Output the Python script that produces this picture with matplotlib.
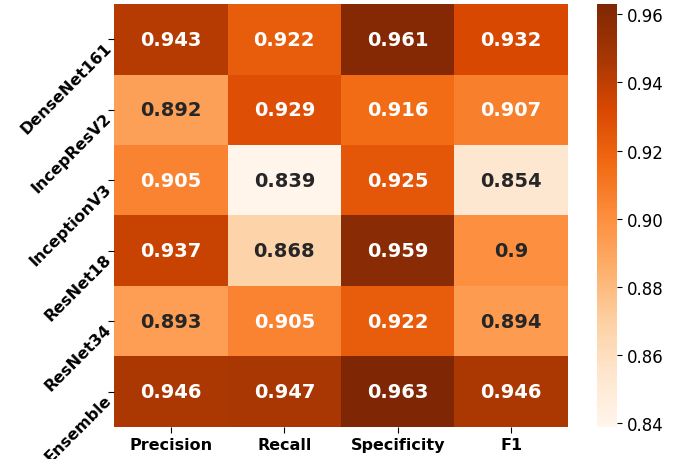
import matplotlib
matplotlib.use("Agg")
import matplotlib.pyplot as plt
import numpy as np
import pandas as pd
import seaborn as sns

models = ["DenseNet161", "IncepResV2", "InceptionV3", "ResNet18", "ResNet34", "Ensemble"]
metrics = ["Precision", "Recall", "Specificity", "F1"]

precision = [0.943, 0.892, 0.905, 0.937, 0.893, 0.946]
recall = [0.922, 0.929, 0.839, 0.868, 0.905, 0.947]
specificity = [0.961, 0.916, 0.925, 0.959, 0.922, 0.963]
f1 = [0.932, 0.907, 0.854, 0.9, 0.894, 0.946]

df = pd.DataFrame(
    {"Precision": precision, "Recall": recall, "Specificity": specificity, "F1": f1},
    index=models,
)[metrics]

fig = plt.figure(figsize=(6.8, 4.6), dpi=100)
ax = fig.add_axes([0.168, 0.07, 0.667, 0.919])
cax = fig.add_axes([0.878, 0.07, 0.03, 0.919])

sns.heatmap(
    df, ax=ax, cbar_ax=cax, cmap="Oranges", annot=True, fmt="g",
    annot_kws={"fontsize": 14, "fontweight": "bold"},
)

ax.set_xticklabels(metrics, fontsize=11.5, fontweight="bold", rotation=0)
ax.set_yticklabels(models, fontsize=11.5, fontweight="bold", rotation=45,
                   va="top", ha="right", rotation_mode="anchor")
ax.tick_params(length=4)
cax.tick_params(labelsize=12)
cax.set_yticks([0.84, 0.86, 0.88, 0.90, 0.92, 0.94, 0.96])
cax.set_yticklabels(["0.84", "0.86", "0.88", "0.90", "0.92", "0.94", "0.96"])

fig.savefig("out.png", dpi=100)
